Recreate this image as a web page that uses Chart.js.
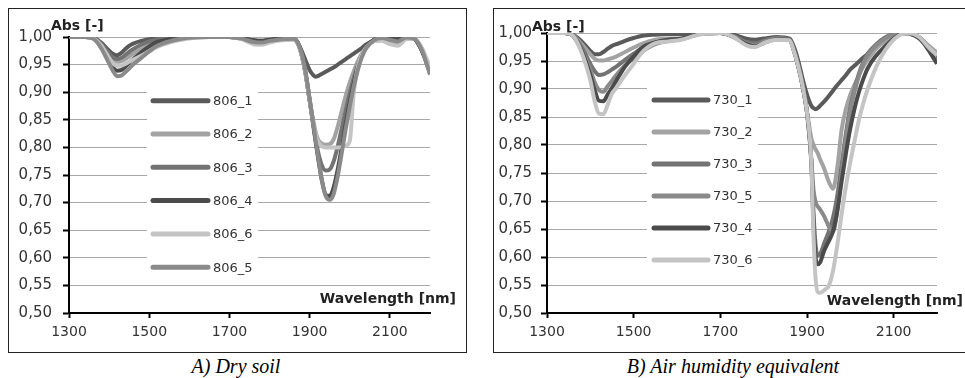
<!DOCTYPE html>
<html><head><meta charset="utf-8">
<script src="https://cdn.jsdelivr.net/npm/chart.js@4"></script>
<style>
html,body{margin:0;padding:0;background:#fff;width:965px;height:378px;overflow:hidden;}
.panel{position:absolute;border:1px solid #222;box-sizing:border-box;background:#fff;}
#pA{left:8px;top:8px;width:459px;height:345px;}
#pB{left:493px;top:8px;width:480px;height:345px;}
canvas{position:absolute;left:0;top:0;}
.cap{position:absolute;font-family:"Liberation Serif","Times New Roman",serif;font-style:italic;font-size:20px;line-height:20px;white-space:nowrap;color:#000;text-align:center;}
</style></head>
<body>
<div class="panel" id="pA"><canvas id="cA" width="456" height="342"></canvas></div>
<div class="panel" id="pB"><canvas id="cB" width="471" height="342"></canvas></div>
<div class="cap" style="left:136px;top:356px;width:200px;">A) Dry soil</div>
<div class="cap" style="left:583px;top:356px;width:300px;">B) Air humidity equivalent</div>
<script>
// ---------- data ----------
const wavelengths = [1300,1340,1360,1380,1400,1410,1420,1430,1440,1450,1460,1480,1500,1520,1550,1580,1610,1650,1700,1730,1760,1780,1800,1830,1860,1870,1880,1890,1900,1910,1915,1920,1925,1930,1940,1950,1960,1970,1980,1990,2000,2010,2020,2030,2040,2060,2080,2100,2120,2140,2160,2180,2200];
const xTicks = [1300,1500,1700,1900,2100];
const yTicks = [0.50,0.55,0.60,0.65,0.70,0.75,0.80,0.85,0.90,0.95,1.00];

const namesA = ['806_1','806_2','806_3','806_4','806_6','806_5'];
const s806_1 = [1.000,1.000,0.999,0.990,0.975, 0.969,0.967,0.971,0.978,0.984, 0.988,0.993,0.996,0.998,0.999, 1.000,1.000,1.000,1.000,0.998, 0.994,0.993,0.995,0.997,0.997, 0.990,0.975,0.957,0.940,0.930, 0.928,0.929,0.931,0.933,0.937, 0.941,0.945,0.950,0.955,0.960, 0.965,0.970,0.975,0.980,0.986, 0.994,0.997,0.997,0.996,0.999, 0.997,0.975,0.938];
const s806_2 = [1.000,1.000,0.998,0.986,0.966, 0.958,0.955,0.956,0.960,0.965, 0.970,0.978,0.986,0.992,0.996, 0.998,1.000,1.000,1.000,0.997, 0.990,0.988,0.992,0.995,0.996, 0.990,0.968,0.933,0.885,0.845, 0.828,0.816,0.810,0.807,0.805, 0.806,0.815,0.838,0.866,0.894, 0.918,0.938,0.956,0.970,0.980, 0.993,0.995,0.990,0.986,0.997, 0.997,0.978,0.940];
const s806_3 = [1.000,1.000,0.999,0.988,0.970, 0.962,0.960,0.962,0.967,0.973, 0.978,0.986,0.992,0.996,0.998, 1.000,1.000,1.000,1.000,0.998, 0.993,0.992,0.994,0.996,0.997, 0.990,0.968,0.933,0.885,0.838, 0.815,0.795,0.780,0.768,0.758, 0.760,0.775,0.802,0.835,0.868, 0.898,0.925,0.948,0.966,0.980, 0.994,0.998,0.996,0.994,0.999, 0.997,0.977,0.940];
const s806_4 = [1.000,1.000,0.998,0.984,0.958, 0.945,0.939,0.940,0.946,0.953, 0.960,0.972,0.983,0.991,0.996, 0.999,1.000,1.000,1.000,0.998, 0.994,0.993,0.995,0.997,0.997, 0.990,0.968,0.933,0.885,0.835, 0.810,0.786,0.763,0.742,0.714, 0.712,0.728,0.760,0.800,0.843, 0.882,0.916,0.945,0.966,0.981, 0.995,0.999,0.997,0.996,1.000, 0.997,0.975,0.935];
const s806_6 = [1.000,1.000,0.998,0.985,0.962, 0.952,0.948,0.948,0.951,0.955, 0.959,0.966,0.974,0.982,0.990, 0.995,0.998,1.000,1.000,0.996, 0.987,0.986,0.990,0.994,0.995, 0.988,0.966,0.932,0.885,0.840, 0.824,0.812,0.806,0.802,0.800, 0.800,0.800,0.800,0.801,0.803, 0.812,0.900,0.945,0.968,0.980, 0.992,0.993,0.987,0.984,0.996, 0.997,0.980,0.945];
const s806_5 = [1.000,1.000,0.997,0.980,0.952, 0.938,0.929,0.930,0.936,0.943, 0.950,0.962,0.974,0.984,0.992, 0.997,0.999,1.000,1.000,0.997, 0.991,0.990,0.993,0.996,0.997, 0.990,0.970,0.936,0.888,0.838, 0.812,0.788,0.764,0.742,0.712, 0.705,0.716,0.748,0.790,0.834, 0.874,0.910,0.940,0.963,0.979, 0.994,0.998,0.995,0.992,0.999, 0.997,0.976,0.932];

const namesB = ['730_1','730_2','730_3','730_5','730_4','730_6'];
const s730_1 = [1.000,1.000,0.997,0.985,0.968, 0.962,0.962,0.966,0.972,0.977, 0.980,0.986,0.991,0.995,0.997, 0.998,0.998,1.000,1.000,0.997, 0.990,0.988,0.990,0.993,0.990, 0.975,0.950,0.918,0.890,0.870, 0.866,0.864,0.866,0.870,0.878, 0.887,0.897,0.907,0.916,0.925, 0.935,0.942,0.949,0.956,0.962, 0.974,0.986,0.995,0.999,0.998, 0.990,0.975,0.955];
const s730_2 = [1.000,1.000,0.996,0.980,0.962, 0.954,0.951,0.951,0.953,0.955, 0.958,0.966,0.974,0.981,0.988, 0.990,0.990,0.998,1.000,0.994, 0.982,0.980,0.985,0.990,0.988, 0.968,0.940,0.905,0.860,0.812, 0.800,0.792,0.785,0.775,0.757, 0.735,0.722,0.760,0.828,0.865, 0.890,0.908,0.925,0.940,0.952, 0.972,0.986,0.995,1.000,0.998, 0.990,0.978,0.965];
const s730_3 = [1.000,1.000,0.996,0.975,0.945, 0.932,0.925,0.926,0.930,0.935, 0.940,0.952,0.963,0.973,0.983, 0.988,0.990,0.998,1.000,0.995, 0.984,0.982,0.986,0.991,0.989, 0.970,0.940,0.905,0.858,0.770, 0.680,0.620,0.603,0.605,0.625, 0.645,0.670,0.710,0.765,0.822, 0.868,0.900,0.928,0.948,0.963, 0.980,0.992,0.998,1.000,0.998, 0.992,0.975,0.950];
const s730_5 = [1.000,1.000,0.995,0.970,0.935, 0.912,0.898,0.895,0.905,0.915, 0.925,0.942,0.955,0.967,0.980, 0.986,0.989,0.998,1.000,0.994, 0.982,0.978,0.984,0.990,0.988, 0.968,0.940,0.905,0.858,0.775, 0.720,0.698,0.690,0.685,0.672, 0.655,0.645,0.685,0.750,0.815, 0.862,0.896,0.924,0.945,0.960, 0.978,0.990,0.997,1.000,0.998, 0.990,0.972,0.948];
const s730_4 = [1.000,1.000,0.995,0.968,0.925, 0.898,0.879,0.878,0.890,0.902, 0.915,0.940,0.958,0.974,0.983, 0.988,0.990,0.998,1.000,0.993, 0.980,0.976,0.982,0.989,0.988, 0.968,0.940,0.905,0.858,0.770, 0.660,0.598,0.587,0.590,0.612, 0.628,0.646,0.682,0.736,0.786, 0.830,0.866,0.895,0.918,0.937, 0.960,0.976,0.990,0.999,0.998, 0.990,0.970,0.945];
const s730_6 = [1.000,1.000,0.995,0.965,0.915, 0.878,0.856,0.855,0.872,0.892, 0.902,0.925,0.945,0.966,0.982, 0.985,0.988,0.997,1.000,0.993, 0.978,0.975,0.982,0.988,0.987, 0.967,0.940,0.905,0.858,0.770, 0.640,0.560,0.537,0.536,0.541, 0.548,0.575,0.622,0.677,0.727, 0.770,0.808,0.845,0.875,0.900, 0.940,0.969,0.988,0.998,0.999, 0.992,0.975,0.960];

const colorsA = ['#5a5a5a','#a3a3a3','#737373','#4b4b4b','#c4c4c4','#8a8a8a'];
const colorsB = ['#5a5a5a','#a3a3a3','#737373','#8a8a8a','#4b4b4b','#c4c4c4'];

// ---------- helpers ----------
const FONT = '"DejaVu Sans", "Liberation Sans", sans-serif';
function mkDatasets(names, series, colors){
  return series.map((arr,i)=>({
    label: names[i],
    data: wavelengths.map((w,j)=>({x:w, y:arr[j]})),
    borderColor: colors[i],
    backgroundColor: colors[i],
    borderWidth: 4,
    pointRadius: 0,
    fill: false,
    cubicInterpolationMode: 'monotone',
    order: series.length - i
  }));
}

const decor = {
  id: 'decor',
  beforeDatasetsDraw(chart, args, o){
    const ca = chart.chartArea, ctx = chart.ctx, L = o.legend;
    const n = chart.data.datasets.length;
    ctx.save();
    ctx.fillStyle = '#fff';
    ctx.fillRect(ca.left + L.boxX0, ca.top + L.y0 - L.padTop, L.boxX1 - L.boxX0, (n-1)*L.dy + L.padTop + L.padBottom);
    ctx.lineCap = 'round';
    ctx.font = '13px ' + FONT;
    ctx.textBaseline = 'middle';
    ctx.textAlign = 'left';
    chart.data.datasets.forEach((ds,i)=>{
      const y = ca.top + L.y0 + i*L.dy;
      ctx.strokeStyle = ds.borderColor; ctx.lineWidth = L.lw;
      ctx.beginPath(); ctx.moveTo(ca.left + L.lineX0, y); ctx.lineTo(ca.left + L.lineX1, y); ctx.stroke();
      ctx.fillStyle = '#333';
      ctx.fillText(ds.label, ca.left + L.textX, y + 1);
    });
    ctx.restore();
  },
  afterDraw(chart, args, o){
    const ca = chart.chartArea, ctx = chart.ctx;
    ctx.save();
    ctx.font = 'bold 14px ' + FONT;
    ctx.fillStyle = '#222';
    ctx.textBaseline = 'alphabetic';
    ctx.textAlign = 'left';
    ctx.fillText(o.yTitle, ca.left + o.yTitleDx, ca.top + o.yTitleDy);
    ctx.textAlign = 'right';
    ctx.fillText(o.xTitle, ca.right + o.xTitleDx, ca.bottom + o.xTitleDy);
    ctx.restore();
  }
};

function mkChart(id, names, series, colors, cfg){
  return new Chart(document.getElementById(id), {
    type: 'line',
    data: { datasets: mkDatasets(names, series, colors) },
    options: {
      responsive: false,
      animation: false,
      events: [],
      layout: { padding: cfg.padding },
      plugins: {
        legend: { display: false },
        tooltip: { enabled: false },
        decor: cfg.decor
      },
      scales: {
        x: {
          type: 'linear', min: 1300, max: 2200,
          afterBuildTicks: s => { s.ticks = xTicks.map(v => ({value: v})); },
          afterFit: s => { s.height = 38; },
          grid: { drawOnChartArea: false, drawTicks: true, tickLength: 5, tickColor: '#000', tickWidth: 2 },
          border: { color: '#000', width: 2 },
          ticks: { font: { family: FONT, size: 14 }, color: '#333', padding: 6, maxRotation: 0, autoSkip: false,
                   callback: v => String(v) }
        },
        y: {
          type: 'linear', min: 0.5, max: 1.0,
          afterBuildTicks: s => { s.ticks = yTicks.map(v => ({value: v})); },
          afterFit: s => { s.width = cfg.yWidth; },
          grid: { color: '#a8a8a8', lineWidth: 1, tickLength: 6, tickColor: '#000', tickWidth: 2 },
          border: { color: '#000', width: 2 },
          ticks: { font: { family: FONT, size: 15 }, color: '#333', padding: cfg.yPad, autoSkip: false,
                   callback: v => Number(v).toFixed(2).replace('.', ',') }
        }
      }
    },
    plugins: [decor]
  });
}

mkChart('cA', namesA, [s806_1, s806_2, s806_3, s806_4, s806_6, s806_5], colorsA, {
  padding: { left: 0, right: 35, top: 28, bottom: 0 },
  yWidth: 60, yPad: 11,
  decor: {
    legend: { boxX0: 78, boxX1: 189, y0: 63.7, dy: 33.3, padTop: 16, padBottom: 15, lineX0: 84, lineX1: 139, textX: 144, lw: 5 },
    yTitle: 'Abs [-]', yTitleDx: -18, yTitleDy: -7,
    xTitle: 'Wavelength [nm]', xTitleDx: 26, xTitleDy: -10
  }
});
mkChart('cB', namesB, [s730_1, s730_2, s730_3, s730_5, s730_4, s730_6], colorsB, {
  padding: { left: 0, right: 28, top: 24, bottom: 0 },
  yWidth: 53, yPad: 9,
  decor: {
    legend: { boxX0: 100, boxX1: 211, y0: 67, dy: 32, padTop: 16, padBottom: 15, lineX0: 107, lineX1: 161, textX: 166, lw: 5 },
    yTitle: 'Abs [-]', yTitleDx: -15, yTitleDy: -2,
    xTitle: 'Wavelength [nm]', xTitleDx: 26, xTitleDy: -8
  }
});
</script>
</body></html>
